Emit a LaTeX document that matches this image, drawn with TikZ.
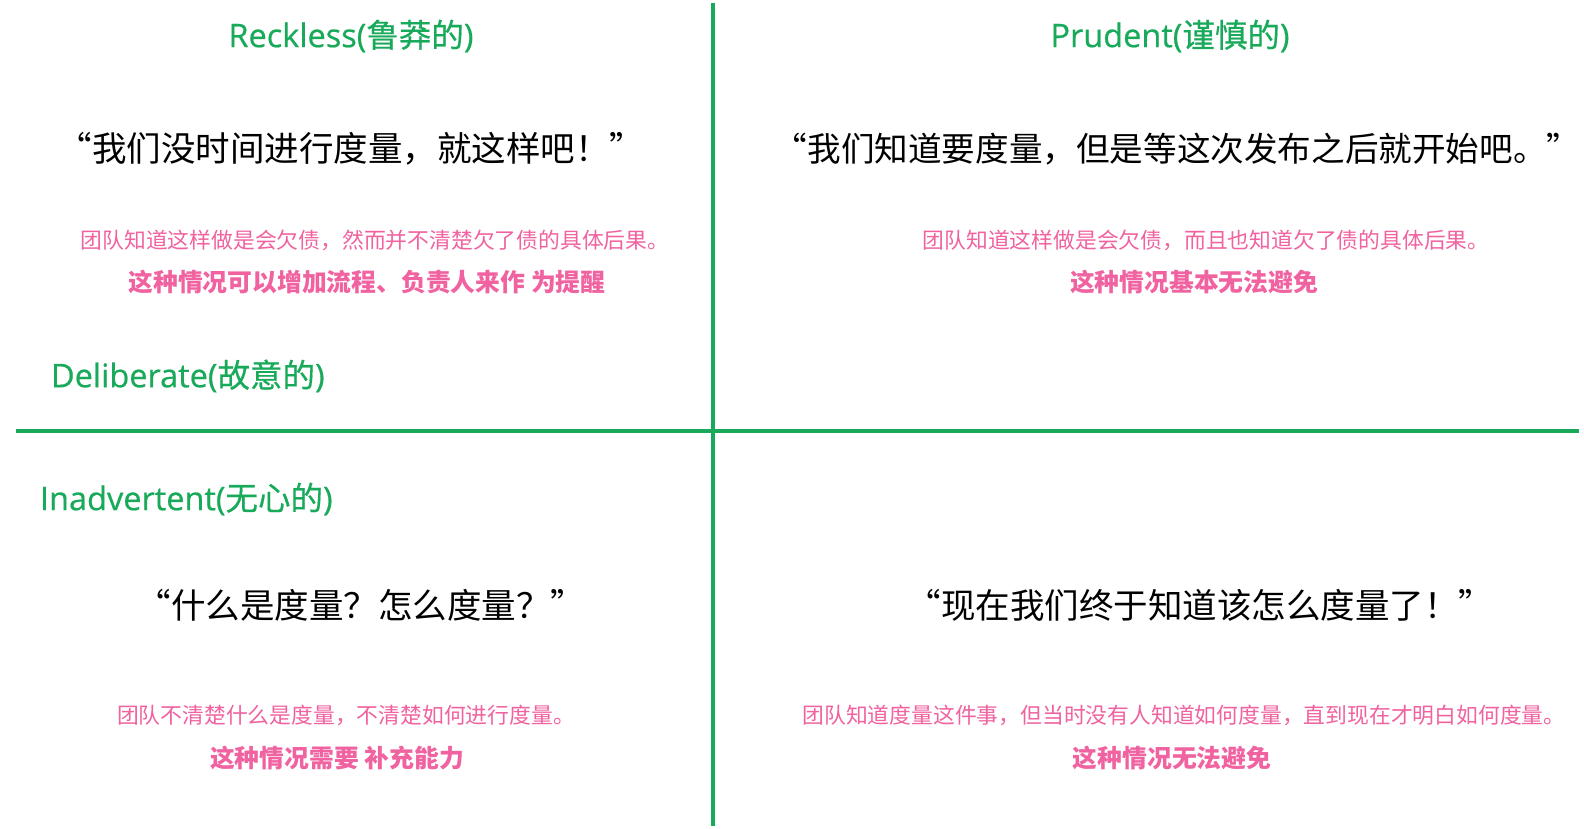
\documentclass[tikz,border=0pt]{standalone}
\usepackage{fontspec}
\setmainfont{Open Sans}
\newfontfamily\cjk{Noto Sans CJK SC}
\newfontfamily\headlat{Open Sans}[BoldFont={Open Sans}, BoldFeatures={FakeBold=0.5}]
\newfontfamily\headcjk{Noto Sans CJK SC}[BoldFont={Noto Sans CJK SC}, BoldFeatures={FakeBold=0.5}]
\definecolor{qgreen}{RGB}{24,170,90}
\definecolor{qpink}{RGB}{240,98,160}
\tikzset{
  every node/.style={inner sep=0pt, outer sep=0pt},
  axisline/.style={draw=qgreen, line width=4pt},
  headtxt/.style={text=qgreen, font=\fontsize{32.5}{38}\selectfont\bfseries},
  quotetxt/.style={text=black, font=\cjk\fontsize{34.5}{40}\selectfont},
  notetxt/.style={text=qpink, font=\cjk\fontsize{21.8}{26}\selectfont},
  boldtxt/.style={text=qpink, font=\cjk\bfseries\fontsize{24.8}{30}\selectfont}
}
\newcommand{\hd}[2]{{\headlat\bfseries #1(}{\headcjk\bfseries #2}{\headlat\bfseries )}}
\begin{document}
\begin{tikzpicture}[x=1pt,y=-1pt]
\useasboundingbox (0,0) rectangle (1584,829);
\fill[white] (0,0) rectangle (1584,829);
% axes
\coordinate (vtop) at (713,3);
\coordinate (vbot) at (713,826);
\coordinate (hl) at (16,431);
\coordinate (hr) at (1579,431);
\draw[axisline] (vtop) -- (vbot);
\draw[axisline] (hl) -- (hr);
% headings
\node[headtxt] (reck) at (351,36) {\hd{Reckless}{鲁莽的}};
\node[headtxt] (prud) at (1170,36) {\hd{Prudent}{谨慎的}};
\node[headtxt, anchor=west] (deli) at (51,376) {\hd{Deliberate}{故意的}};
\node[headtxt, anchor=west] (inad) at (40,499) {\hd{Inadvertent}{无心的}};
% top-left
\node[quotetxt] (q1) at (351,149) {“我们没时间进行度量，就这样吧！”};
\node[notetxt] (n1) at (375,240) {团队知道这样做是会欠债，然而并不清楚欠了债的具体后果。};
\node[boldtxt] (b1) at (367,282) {这种情况可以增加流程、负责人来作 为提醒};
% top-right
\node[quotetxt, font=\cjk\fontsize{33.6}{40}\selectfont] (q2) at (1177,149) {“我们知道要度量，但是等这次发布之后就开始吧。”};
\node[notetxt] (n2) at (1206,240) {团队知道这样做是会欠债，而且也知道欠了债的具体后果。};
\node[boldtxt] (b2) at (1194,282) {这种情况基本无法避免};
% bottom-left
\node[quotetxt] (q3) at (361,605) {“什么是度量？怎么度量？”};
\node[notetxt] (n3) at (346,715) {团队不清楚什么是度量，不清楚如何进行度量。};
\node[boldtxt] (b3) at (337,758) {这种情况需要 补充能力};
% bottom-right
\node[quotetxt] (q4) at (1200,605) {“现在我们终于知道该怎么度量了！”};
\node[notetxt] (n4) at (1184,715) {团队知道度量这件事，但当时没有人知道如何度量，直到现在才明白如何度量。};
\node[boldtxt] (b4) at (1172,758) {这种情况无法避免};
\end{tikzpicture}
\end{document}
